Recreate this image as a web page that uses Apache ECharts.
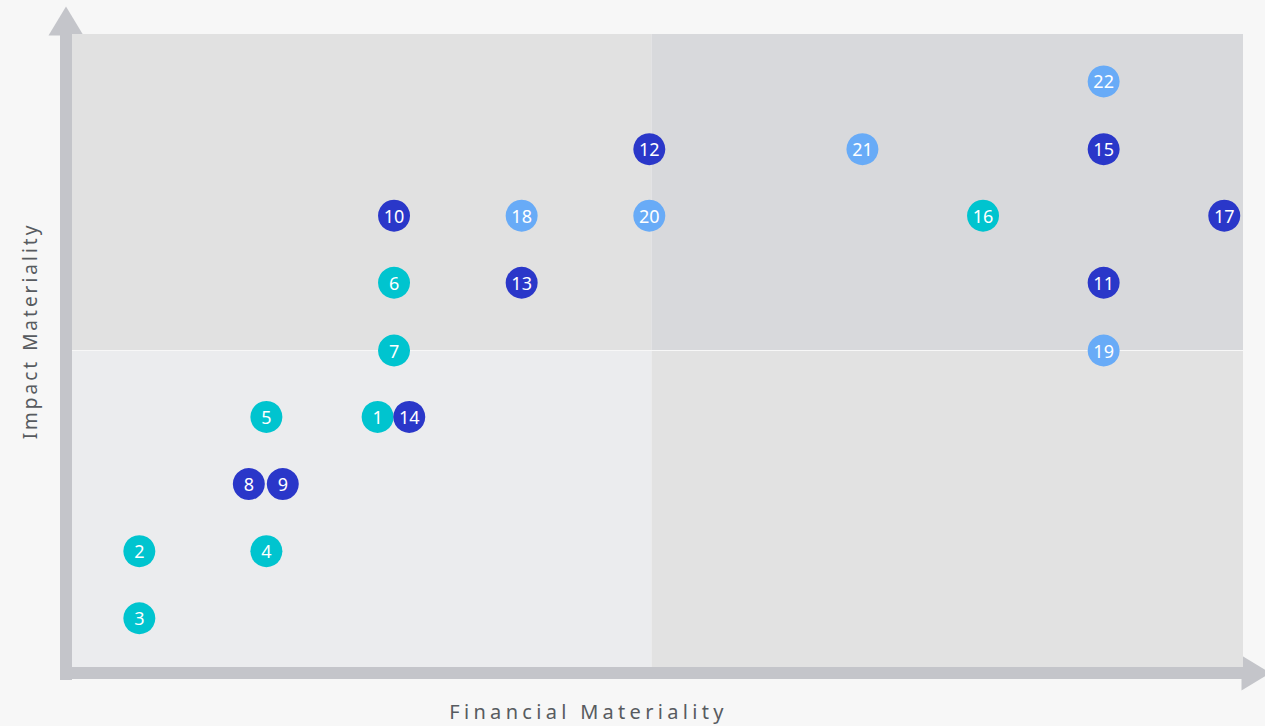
<!DOCTYPE html>
<html>
<head>
<meta charset="utf-8">
<title>Materiality Matrix</title>
<script src="https://cdn.jsdelivr.net/npm/echarts@6/dist/echarts.min.js"></script>
<style>
  html, body { margin: 0; padding: 0; background: #f7f7f7; }
  #chart { width: 1265px; height: 726px; }
  /* axis names are spaced out in the reference */
  #chart text[style*="20px"] { letter-spacing: 4.3px; }
  #chart text[style*="19px"] { letter-spacing: 3px; }
</style>
</head>
<body>
<div id="chart"></div>
<script>
// topic ids and positions (x = financial, y = impact), three groups
const tealIds = [1, 2, 3, 4, 5, 6, 7, 16]
const tealX = [2.61, 0.575, 0.575, 1.66, 1.66, 2.75, 2.75, 7.78]
const tealY = [3.95, 1.83, 0.77, 1.83, 3.95, 6.07, 5.0, 7.13]

const navyIds = [8, 9, 10, 11, 12, 13, 14, 15, 17]
const navyX = [1.51, 1.80, 2.75, 8.81, 4.93, 3.84, 2.88, 8.81, 9.84]
const navyY = [2.89, 2.89, 7.13, 6.07, 8.18, 6.07, 3.95, 8.18, 7.13]

const skyIds = [18, 19, 20, 21, 22]
const skyX = [3.84, 8.81, 4.93, 6.75, 8.81]
const skyY = [7.13, 5.0, 7.13, 8.18, 9.25]

const xSplit = 4.95
const ySplit = 5

const GRID = { left: 72, top: 34, right: 22, bottom: 58 }
const axisColor = '#c4c5ca'

function toPoints(ids, xs, ys) {
  return ids.map((id, i) => [xs[i], ys[i], id])
}

function dotSeries(name, color, ids, xs, ys) {
  return {
    name,
    type: 'scatter',
    symbol: 'circle',
    symbolSize: 32,
    z: 5,
    itemStyle: { color, opacity: 1 },
    label: {
      show: true,
      position: 'inside',
      formatter: p => p.value[2],
      color: '#fff',
      fontSize: 18,
      fontFamily: 'Noto Sans',
    },
    emphasis: { disabled: true },
    data: toPoints(ids, xs, ys),
  }
}

const chart = echarts.init(document.getElementById('chart'), null, { renderer: 'svg' })

// thick grey bars with a triangle head, sitting just outside the plot
const axisLine = () => ({
  show: true,
  onZero: false,
  symbol: ['none', 'triangle'],
  symbolSize: [35, 29],
  symbolOffset: [0, 13],
  lineStyle: { color: axisColor, width: 12, cap: 'square' },
})

chart.setOption({
  backgroundColor: '#f7f7f7',
  animation: false,
  grid: GRID,
  xAxis: {
    type: 'value',
    min: 0,
    max: 10,
    offset: 6,
    name: 'Financial Materiality',
    nameLocation: 'middle',
    nameGap: 28,
    nameTextStyle: {
      fontSize: 20,
      fontFamily: 'Noto Sans',
      color: '#575b60',
      padding: [0, 138, 0, 0],
    },
    axisLine: axisLine(),
    axisTick: { show: false },
    axisLabel: { show: false },
    splitLine: { show: false },
  },
  yAxis: {
    type: 'value',
    min: 0,
    max: 10,
    offset: 6,
    name: 'Impact Materiality',
    nameLocation: 'middle',
    nameGap: 27,
    nameTextStyle: {
      fontSize: 19,
      fontFamily: 'Noto Sans',
      color: '#575b60',
      padding: [0, 0, 0, 39],
    },
    axisLine: axisLine(),
    axisTick: { show: false },
    axisLabel: { show: false },
    splitLine: { show: false },
  },
  graphic: [
    {
      // fills the corner where the two thick axis bars meet
      type: 'rect',
      shape: { x: GRID.left - 12, y: 726 - GRID.bottom, width: 12, height: 12 },
      style: { fill: axisColor },
      silent: true,
    },
  ],
  series: [
    {
      name: 'quadrants',
      type: 'scatter',
      data: [],
      z: 1,
      silent: true,
      markArea: {
        silent: true,
        label: { show: false },
        data: [
          [{ xAxis: 0, yAxis: ySplit, itemStyle: { color: '#e1e1e1' } }, { xAxis: xSplit, yAxis: 10 }],
          [{ xAxis: xSplit, yAxis: ySplit, itemStyle: { color: '#d8d9dc' } }, { xAxis: 10, yAxis: 10 }],
          [{ xAxis: 0, yAxis: 0, itemStyle: { color: '#ebecee' } }, { xAxis: xSplit, yAxis: ySplit }],
          [{ xAxis: xSplit, yAxis: 0, itemStyle: { color: '#e2e2e2' } }, { xAxis: 10, yAxis: ySplit }],
        ],
      },
      markLine: {
        silent: true,
        symbol: 'none',
        label: { show: false },
        lineStyle: { color: '#f7f7f7', width: 1, type: 'solid' },
        data: [{ yAxis: ySplit }],
      },
    },
    dotSeries('teal', '#00c4cf', tealIds, tealX, tealY),
    dotSeries('navy', '#2a37c9', navyIds, navyX, navyY),
    dotSeries('sky', '#68abf7', skyIds, skyX, skyY),
  ],
})
</script>
</body>
</html>
